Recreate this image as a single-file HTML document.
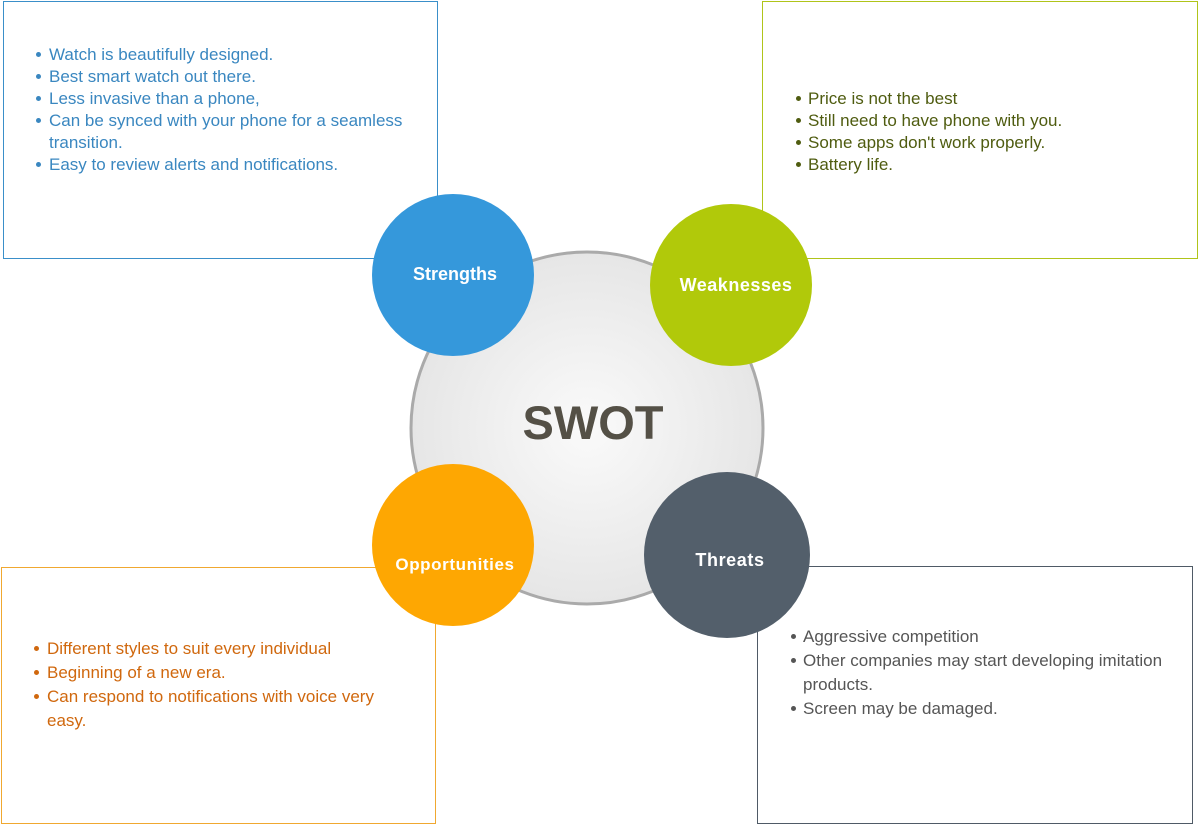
<!DOCTYPE html>
<html><head><meta charset="utf-8"><style>
body{margin:0;width:1200px;height:831px;background:#fff;position:relative;overflow:hidden;font-family:"Liberation Sans",sans-serif}
.box{position:absolute;box-sizing:border-box;border:1px solid}
.l{position:absolute;font-size:17px;white-space:nowrap;line-height:20px}
.b{position:absolute;width:5px;height:5px;border-radius:50%}
</style></head><body>
<div class="box" style="left:3px;top:1px;width:435px;height:258px;border-color:#3a8fc9"></div>
<div class="box" style="left:762px;top:1px;width:436px;height:258px;border-color:#b0c41a"></div>
<div class="box" style="left:1px;top:567px;width:435px;height:257px;border-color:#f0a830"></div>
<div class="box" style="left:757px;top:566px;width:436px;height:258px;border-color:#4f5a66"></div>
<svg width="1200" height="831" style="position:absolute;left:0;top:0">
<defs><radialGradient id="g"><stop offset="0" stop-color="#fafafa"/><stop offset="1" stop-color="#e6e6e6"/></radialGradient></defs>
<circle cx="587" cy="428" r="176" fill="url(#g)" stroke="#aaa" stroke-width="3"/>
<circle cx="453" cy="275" r="81" fill="#3598db"/>
<circle cx="731" cy="285" r="81" fill="#b1c90a"/>
<circle cx="453" cy="545" r="81" fill="#fea702"/>
<circle cx="727" cy="555" r="83" fill="#535f6b"/>
<text x="593" y="439" text-anchor="middle" font-size="47" font-weight="bold" fill="#545046" font-family="Liberation Sans">SWOT</text>
<text x="455" y="280" text-anchor="middle" font-size="18" font-weight="bold" fill="#fff" font-family="Liberation Sans">Strengths</text>
<text x="736" y="291" text-anchor="middle" font-size="18" font-weight="bold" fill="#fff" font-family="Liberation Sans" letter-spacing="0.5">Weaknesses</text>
<text x="455" y="570" text-anchor="middle" font-size="17" font-weight="bold" fill="#fff" font-family="Liberation Sans" letter-spacing="0.6">Opportunities</text>
<text x="730" y="566" text-anchor="middle" font-size="18" font-weight="bold" fill="#fff" font-family="Liberation Sans" letter-spacing="0.6">Threats</text>
</svg>
<div style="color:#3a87c0">
<div class="b" style="left:36px;top:52px;background:#3a87c0"></div><div class="l" style="left:49px;top:45px">Watch is beautifully designed.</div>
<div class="b" style="left:36px;top:74px;background:#3a87c0"></div><div class="l" style="left:49px;top:67px">Best smart watch out there.</div>
<div class="b" style="left:36px;top:96px;background:#3a87c0"></div><div class="l" style="left:49px;top:89px">Less invasive than a phone,</div>
<div class="b" style="left:36px;top:118px;background:#3a87c0"></div><div class="l" style="left:49px;top:111px">Can be synced with your phone for a seamless</div>
<div class="l" style="left:49px;top:133px">transition.</div>
<div class="b" style="left:36px;top:162px;background:#3a87c0"></div><div class="l" style="left:49px;top:155px">Easy to review alerts and notifications.</div>
</div>
<div style="color:#4f5c10">
<div class="b" style="left:796px;top:96px;background:#4f5c10"></div><div class="l" style="left:808px;top:89px">Price is not the best</div>
<div class="b" style="left:796px;top:118px;background:#4f5c10"></div><div class="l" style="left:808px;top:111px">Still need to have phone with you.</div>
<div class="b" style="left:796px;top:140px;background:#4f5c10"></div><div class="l" style="left:808px;top:133px">Some apps don't work properly.</div>
<div class="b" style="left:796px;top:162px;background:#4f5c10"></div><div class="l" style="left:808px;top:155px">Battery life.</div>
</div>
<div style="color:#d0680e">
<div class="b" style="left:34px;top:646px;background:#d0680e"></div><div class="l" style="left:47px;top:639px">Different styles to suit every individual</div>
<div class="b" style="left:34px;top:670px;background:#d0680e"></div><div class="l" style="left:47px;top:663px">Beginning of a new era.</div>
<div class="b" style="left:34px;top:694px;background:#d0680e"></div><div class="l" style="left:47px;top:687px">Can respond to notifications with voice very</div>
<div class="l" style="left:47px;top:711px">easy.</div>
</div>
<div style="color:#555">
<div class="b" style="left:791px;top:634px;background:#555"></div><div class="l" style="left:803px;top:627px">Aggressive competition</div>
<div class="b" style="left:791px;top:658px;background:#555"></div><div class="l" style="left:803px;top:651px">Other companies may start developing imitation</div>
<div class="l" style="left:803px;top:675px">products.</div>
<div class="b" style="left:791px;top:706px;background:#555"></div><div class="l" style="left:803px;top:699px">Screen may be damaged.</div>
</div>
</body></html>
